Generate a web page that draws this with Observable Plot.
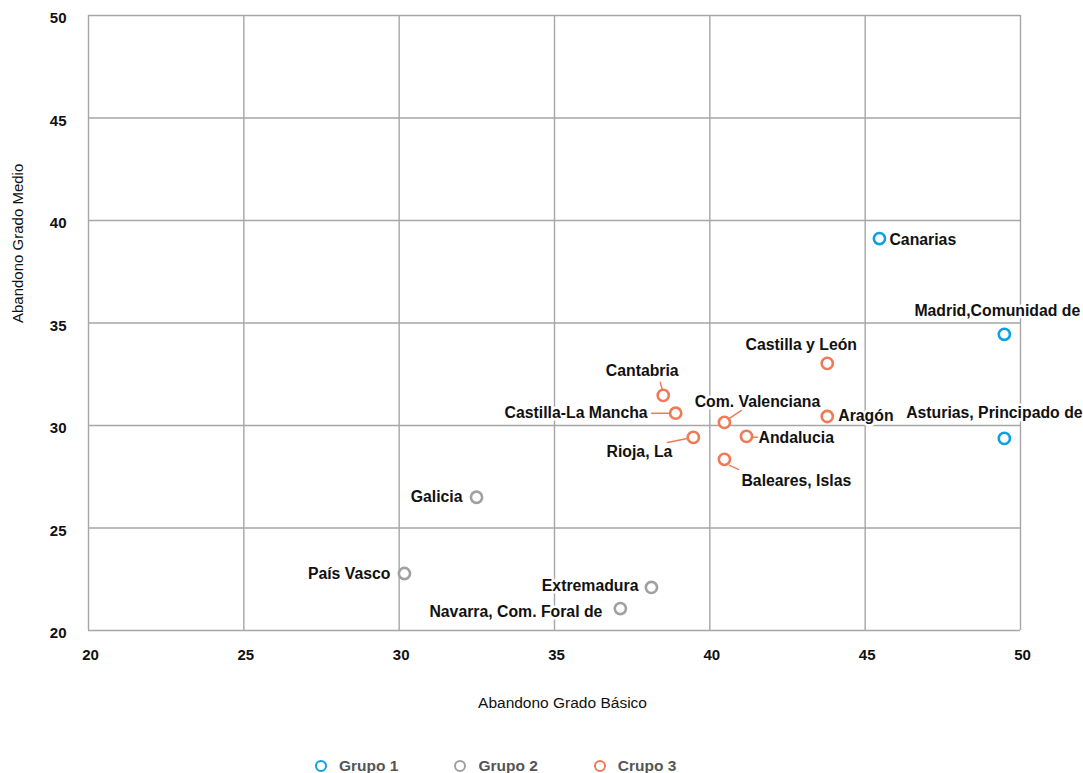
<!DOCTYPE html>
<html>
<head>
<meta charset="utf-8">
<script src="https://cdn.jsdelivr.net/npm/d3@7"></script>
<script src="https://cdn.jsdelivr.net/npm/@observablehq/plot@0.6"></script>
<style>
  html, body { margin: 0; padding: 0; background: #fff; }
  #wrap { position: relative; width: 1083px; height: 773px; overflow: hidden; font-family: "Liberation Sans", Arial, sans-serif; }
  #legend { position: absolute; left: 315px; top: 757px; height: 18px; display: flex; align-items: center; }
  .item { display: flex; align-items: center; margin-right: 56px; }
  .sw { width: 8px; height: 8px; border-radius: 50%; border: 2.5px solid; background: #fff; margin-right: 12px; }
  .lb { font-size: 15.5px; font-weight: bold; color: #555; }
  svg [aria-label="x-axis tick label"] text, svg [aria-label="y-axis tick label"] text { font-weight: bold; font-size: 15px; }
</style>
</head>
<body>
<div id="wrap"><div id="chart"></div><div id="legend"></div></div>
<script>
// ---- data ----
const regions = ["Canarias", "Madrid,Comunidad de", "Asturias, Principado de", "Castilla y León", "Cantabria",
  "Castilla-La Mancha", "Com. Valenciana", "Aragón", "Andalucia", "Rioja, La", "Baleares, Islas",
  "Galicia", "País Vasco", "Extremadura", "Navarra, Com. Foral de"];
const abandonoBasico = [45.46, 49.48, 49.48, 43.78, 38.5, 38.9, 40.47, 43.78, 41.18, 39.47, 40.47, 32.49, 30.17, 38.12, 37.12];
const abandonoMedio = [39.12, 34.45, 29.37, 33.03, 31.47, 30.6, 30.15, 30.44, 29.47, 29.42, 28.35, 26.5, 22.78, 22.1, 21.07];
const grupo = [0, 0, 0, 2, 2, 2, 2, 2, 2, 2, 2, 1, 1, 1, 1];
const groupNames = ["Grupo 1", "Grupo 2", "Crupo 3"];
const xTicks = [20, 25, 30, 35, 40, 45, 50];
const yTicks = [20, 25, 30, 35, 40, 45, 50];
const xTitle = "Abandono Grado Básico";
const yTitle = "Abandono Grado Medio";

// ---- styling / label layout (pixels) ----
const groupColors = ["#0ea0e4", "#a0a0a0", "#f07a57"];
const labelLayout = {
  "Canarias": {dx: 10, dy: 1, anchor: "start"},
  "Madrid,Comunidad de": {dx: -7, dy: -23, anchor: "middle"},
  "Asturias, Principado de": {dx: -10, dy: -25, anchor: "middle"},
  "Castilla y León": {dx: -26, dy: -18, anchor: "middle"},
  "Cantabria": {dx: -21, dy: -24, anchor: "middle", leader: [-3, -13, -1, -6]},
  "Castilla-La Mancha": {dx: -28, dy: 0, anchor: "end", leader: [-24, 0, -7, 0]},
  "Com. Valenciana": {dx: 33, dy: -20, anchor: "middle", leader: [17, -12, 5, -4]},
  "Aragón": {dx: 11, dy: -1, anchor: "start"},
  "Andalucia": {dx: 12, dy: 2, anchor: "start", leader: [6, 1, 12, 1]},
  "Rioja, La": {dx: -21, dy: 15, anchor: "end", leader: [-26, 5, -6, 1]},
  "Baleares, Islas": {dx: 17, dy: 22, anchor: "start", leader: [5, 6, 14, 10]},
  "Galicia": {dx: -14, dy: 0, anchor: "end"},
  "País Vasco": {dx: -14, dy: 0, anchor: "end"},
  "Extremadura": {dx: -13, dy: -2, anchor: "end"},
  "Navarra, Com. Foral de": {dx: -18, dy: 3, anchor: "end"}
};

const rows = regions.map((name, i) => ({name, x: abandonoBasico[i], y: abandonoMedio[i], g: grupo[i]}));
const font = '"Liberation Sans", Arial, sans-serif';
const lineShape = { draw(context, l) { context.moveTo(0, 0); context.lineTo(0, -l); } };

const leaderMarks = rows.filter(r => labelLayout[r.name].leader).map(r => {
  const [ax, ay, bx, by] = labelLayout[r.name].leader;
  const len = Math.hypot(bx - ax, by - ay);
  const rot = Math.atan2(bx - ax, -(by - ay)) * 180 / Math.PI;
  return Plot.vector([r], {x: "x", y: "y", dx: ax, dy: ay, length: len, rotate: rot, anchor: "start",
    shape: lineShape, stroke: groupColors[r.g], strokeWidth: 1.5});
});

const labelMarks = rows.map(r => {
  const L = labelLayout[r.name];
  return Plot.text([r], {x: "x", y: "y", text: "name", dx: L.dx, dy: L.dy, textAnchor: L.anchor,
    fontSize: 15.8, fontWeight: "bold", fill: "#111", stroke: "white", strokeWidth: 5, fontFamily: font});
});

const chart = Plot.plot({
  width: 1083,
  height: 745,
  marginLeft: 88,
  marginRight: 63,
  marginTop: 15,
  marginBottom: 115,
  style: {fontFamily: font, fontSize: "15px", color: "#111", background: "#fff", overflow: "visible"},
  x: {domain: [20, 50]},
  y: {domain: [20, 50]},
  marks: [
    Plot.gridX(xTicks, {stroke: "#a6a6a6", strokeOpacity: 1, strokeWidth: 1.4}),
    Plot.gridY(yTicks, {stroke: "#a6a6a6", strokeOpacity: 1, strokeWidth: 1.4}),
    Plot.axisX(xTicks, {tickSize: 0, tickPadding: 19, dx: 2, label: null, fontSize: 15, fontWeight: "bold", fill: "#111"}),
    Plot.axisY(yTicks, {tickSize: 0, tickPadding: 22, dy: 3, label: null, fontSize: 15, fontWeight: "bold", fill: "#111"}),
    Plot.text([xTitle], {frameAnchor: "bottom", dy: 73, dx: 8, lineAnchor: "middle", fontSize: 15.5, fill: "#111"}),
    Plot.text([yTitle], {frameAnchor: "left", dx: -70, rotate: -90, lineAnchor: "middle", fontSize: 15, fill: "#111"}),
    ...leaderMarks,
    ...labelMarks,
    Plot.dot(rows, {x: "x", y: "y", r: 5.6, stroke: d => groupColors[d.g], strokeWidth: 2.6, fill: "white"})
  ]
});
document.getElementById("chart").appendChild(chart);

const legend = document.getElementById("legend");
groupNames.forEach((n, i) => {
  const it = document.createElement("div");
  it.className = "item";
  it.innerHTML = `<span class="sw" style="border-color:${groupColors[i]}"></span><span class="lb">${n}</span>`;
  legend.appendChild(it);
});
</script>
</body>
</html>
